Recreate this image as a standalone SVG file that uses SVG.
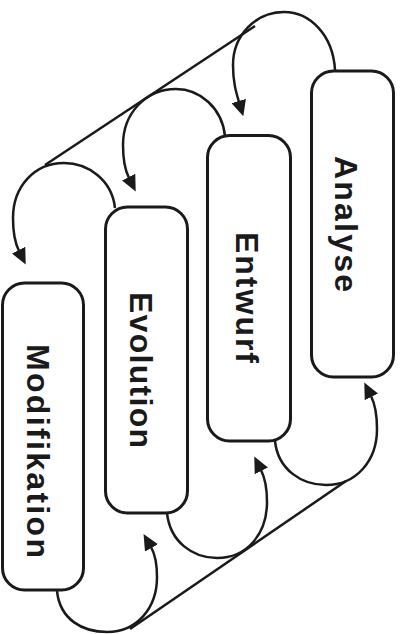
<svg xmlns="http://www.w3.org/2000/svg" width="400" height="634" viewBox="0 0 400 634">
<style>
.box{fill:#fff;stroke:#1a1a1a;stroke-width:3}
.lbl{font-family:"Liberation Sans",Arial,sans-serif;font-weight:bold;font-size:32px;fill:#1a1a1a}
.con{fill:none;stroke:#1a1a1a;stroke-width:2.5}
</style>
<defs>
<marker id="ah" markerWidth="17" markerHeight="15" refX="1" refY="7.5" orient="auto" markerUnits="userSpaceOnUse"><path d="M0,0 L16,7.5 L0,15 z" fill="#1a1a1a"/></marker>
</defs>
<rect width="400" height="634" fill="#fff"/>
<g id="connectors">
<path class="con" d="M255,26 L45,165"/>
<path class="con" d="M130,629 L346,481"/>
<path class="con" marker-end="url(#ah)" d="M335,70 C333,35 310,12 284,12 C255,12 233,36 233,65 C233,82 236,92 239,102"/>
<path class="con" marker-end="url(#ah)" d="M225,136 C222,108 200,89 176,89 C146,89 123,113 123,145 C123,160 125,170 129,178"/>
<path class="con" marker-end="url(#ah)" d="M115,208 C112,180 88,163 64,163 C34,163 13,187 13,218 C13,232 15,243 19,251"/>
<path class="con" marker-end="url(#ah)" d="M275,441 C278,470 302,485 326,485 C356,485 377,461 377,429 C377,414 375,404 371,396"/>
<path class="con" marker-end="url(#ah)" d="M167,513 C170,542 193,558 217,558 C247,558 267,534 267,502 C267,487 265,478 261,470"/>
<path class="con" marker-end="url(#ah)" d="M57,591 C60,620 83,632 107,632 C137,632 157,608 157,577 C157,563 155,554 151,547"/>
</g>
<g id="analyse">
<rect class="box" x="311.5" y="71" width="82" height="306" rx="22"/>
<text class="lbl" transform="translate(335,156) rotate(90)" textLength="136" lengthAdjust="spacing">Analyse</text>
</g>
<g id="entwurf">
<rect class="box" x="207.5" y="135.5" width="83" height="305.5" rx="22"/>
<text class="lbl" transform="translate(236,232) rotate(90)" textLength="131" lengthAdjust="spacing">Entwurf</text>
</g>
<g id="evolution">
<rect class="box" x="105.5" y="207" width="82" height="306" rx="22"/>
<text class="lbl" transform="translate(130,292) rotate(90)" textLength="156" lengthAdjust="spacing">Evolution</text>
</g>
<g id="modifikation">
<rect class="box" x="2.5" y="283" width="81" height="307" rx="22"/>
<text class="lbl" transform="translate(27,344) rotate(90)" textLength="214" lengthAdjust="spacing">Modifikation</text>
</g>
</svg>
